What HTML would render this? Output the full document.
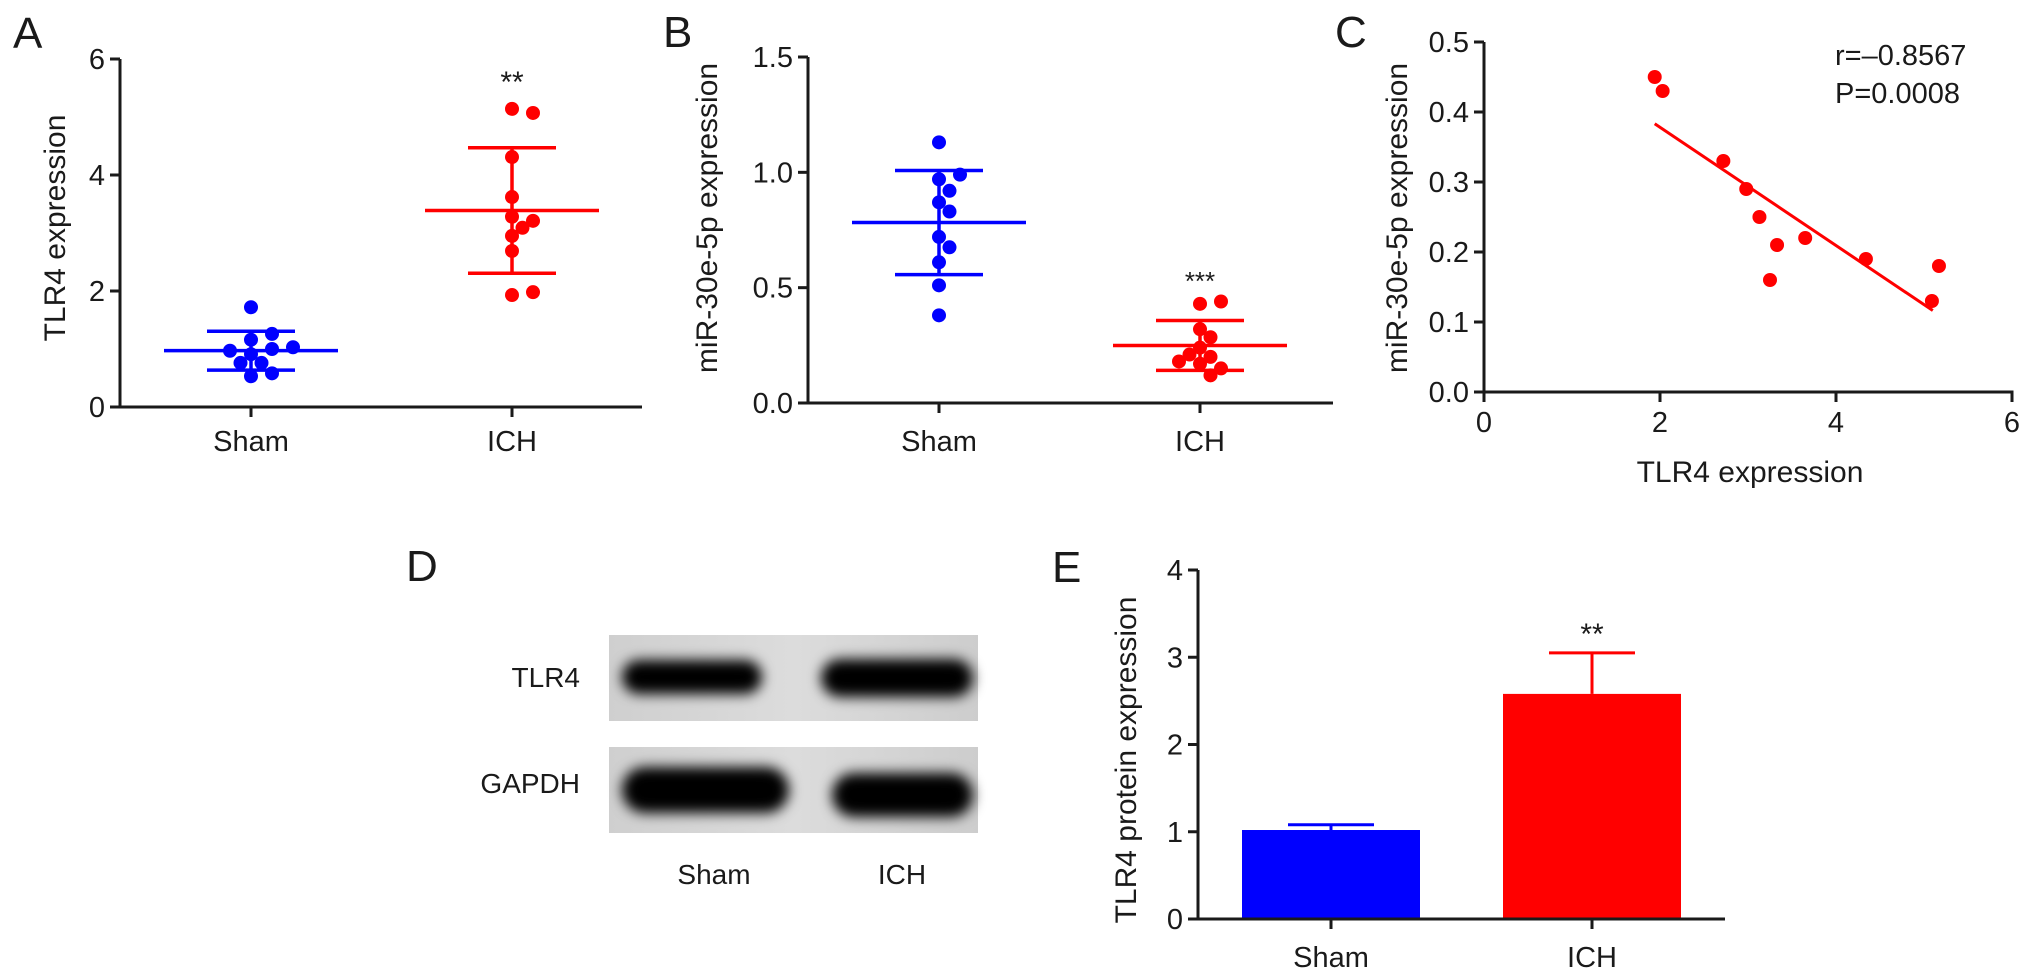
<!DOCTYPE html>
<html><head><meta charset="utf-8"><style>
html,body{margin:0;padding:0;background:#fff;}
svg{display:block;font-family:"Liberation Sans",Arial,sans-serif;}
</style></head><body>
<svg id="fig" width="2032" height="980" viewBox="0 0 2032 980">
<defs>
<filter id="blur" x="-20%" y="-60%" width="140%" height="220%"><feGaussianBlur stdDeviation="6.5"/></filter>
<linearGradient id="blotbg" x1="0" x2="1" y1="0" y2="0"><stop offset="0" stop-color="#cfcfcf"/><stop offset="0.5" stop-color="#dcdcdc"/><stop offset="1" stop-color="#cdcdcd"/></linearGradient>
</defs>
</svg>
<script>
// ---- Panel A data: TLR4 expression ----
const aCategories = ['Sham', 'ICH'];
const aShamValues = [1.72, 1.16, 1.26, 0.91, 1.0, 0.97, 1.03, 0.76, 0.76, 0.53, 0.58];
const aIchValues = [5.14, 5.07, 4.31, 3.62, 3.28, 3.21, 3.09, 2.95, 2.69, 1.93, 1.98];
const aTicks = [0, 2, 4, 6];
// ---- Panel B data: miR-30e-5p expression ----
const bCategories = ['Sham', 'ICH'];
const bShamValues = [1.13, 0.97, 0.99, 0.92, 0.87, 0.83, 0.72, 0.675, 0.61, 0.51, 0.38];
const bIchValues = [0.43, 0.44, 0.32, 0.285, 0.24, 0.20, 0.21, 0.17, 0.18, 0.15, 0.12];
const bTicks = [0.0, 0.5, 1.0, 1.5];
const bTickLabels = ['0.0', '0.5', '1.0', '1.5'];
// ---- Panel C data: correlation ----
const cX = [1.94, 2.03, 2.72, 2.98, 3.13, 3.33, 3.25, 3.65, 4.34, 5.09, 5.17];
const cY = [0.45, 0.43, 0.33, 0.29, 0.25, 0.21, 0.16, 0.22, 0.19, 0.13, 0.18];
const cXTicks = [0, 2, 4, 6];
const cYTicks = [0.0, 0.1, 0.2, 0.3, 0.4, 0.5];
const cYTickLabels = ['0.0', '0.1', '0.2', '0.3', '0.4', '0.5'];
const cStats = ['r=\u20130.8567', 'P=0.0008'];
// ---- Panel E data: TLR4 protein ----
const eCategories = ['Sham', 'ICH'];
const eMeans = [1.02, 2.58];
const eErrors = [0.06, 0.47];
const eTicks = [0, 1, 2, 3, 4];

const svg = document.getElementById('fig');
const NS = 'http://www.w3.org/2000/svg';
const BLUE = '#0000ff', RED = '#ff0000', INK = '#1a1a1a';

function mk(tag, attrs, name, parent) {
  const el = document.createElementNS(NS, tag);
  for (const k in attrs) el.setAttribute(k, attrs[k]);
  
  
  (parent || svg).appendChild(el);
  return el;
}
function txt(x, y, s, size, name, extra) {
  const a = Object.assign({x: x, y: y, 'font-size': size, fill: INK, 'text-anchor': 'middle'}, extra || {});
  const t = mk('text', a, name);
  t.textContent = s;
  return t;
}
function line(x1, y1, x2, y2, color, w, name) {
  return mk('line', {x1: x1, y1: y1, x2: x2, y2: y2, stroke: color, 'stroke-width': w}, name);
}
function mean(a) { return a.reduce((s, v) => s + v, 0) / a.length; }
function sd(a) { const m = mean(a); return Math.sqrt(a.reduce((s, v) => s + (v - m) * (v - m), 0) / (a.length - 1)); }

function yAxis(x, yScale, ticks, labels, top, bottom, prefix) {
  line(x, top, x, bottom + 1.5, INK, 3, prefix + '-y-axis');
  ticks.forEach((t, i) => {
    const y = yScale(t);
    line(x - 10, y, x, y, INK, 3, prefix + '-y-tick');
    txt(x - 15, y + 10, labels[i], 29, prefix + '-y-tick-label', {'text-anchor': 'end'});
  });
}
function swarm(values, cx, yScale, color, prefix) {
  const placed = [];
  const order = [0, 1, -1, 2, -2, 3, -3, 4, -4, 5, -5];
  values.forEach(v => {
    const y = yScale(v);
    let px = cx;
    for (const k of order) {
      const x = cx + k * 10.5;
      if (!placed.some(p => Math.hypot(p[0] - x, p[1] - y) < 12.5)) { px = x; break; }
    }
    placed.push([px, y]);
    mk('circle', {cx: px, cy: y, r: 7, fill: color}, prefix + '-dot');
  });
}
function meanSd(values, cx, yScale, color, prefix) {
  const m = mean(values), s = sd(values);
  line(cx - 87, yScale(m), cx + 87, yScale(m), color, 3.5, prefix + '-mean-line');
  line(cx, yScale(m + s), cx, yScale(m - s), color, 3.5, prefix + '-sd-stem');
  line(cx - 44, yScale(m + s), cx + 44, yScale(m + s), color, 3.5, prefix + '-sd-cap-top');
  line(cx - 44, yScale(m - s), cx + 44, yScale(m - s), color, 3.5, prefix + '-sd-cap-bottom');
}

// ===== Panel A =====
(function () {
  const ax = 120, y0 = 407, y6 = 59;
  const yS = v => y0 - (v / 6) * (y0 - y6);
  const xPos = [251, 512];
  txt(13, 48, 'A', 44, 'panel-a-letter', {'text-anchor': 'start'});
  yAxis(ax, yS, aTicks, aTicks.map(String), y6, y0, 'panel-a');
  line(ax - 10, y0, 642, y0, INK, 3, 'panel-a-x-axis');
  aCategories.forEach((c, i) => {
    line(xPos[i], y0, xPos[i], y0 + 10, INK, 3, 'panel-a-x-tick');
    txt(xPos[i], 451, c, 29, 'panel-a-x-label-' + c.toLowerCase());
  });
  txt(0, 0, 'TLR4 expression', 30, 'panel-a-y-axis-title', {transform: 'translate(65,228) rotate(-90)'});
  swarm(aShamValues, xPos[0], yS, BLUE, 'panel-a-sham');
  meanSd(aShamValues, xPos[0], yS, BLUE, 'panel-a-sham');
  swarm(aIchValues, xPos[1], yS, RED, 'panel-a-ich');
  meanSd(aIchValues, xPos[1], yS, RED, 'panel-a-ich');
  txt(xPos[1], 92, '**', 30, 'panel-a-significance');
})();

// ===== Panel B =====
(function () {
  const ax = 808, y0 = 403, yTop = 57;
  const yS = v => y0 - (v / 1.5) * (y0 - yTop);
  const xPos = [939, 1200];
  txt(663, 47, 'B', 44, 'panel-b-letter', {'text-anchor': 'start'});
  yAxis(ax, yS, bTicks, bTickLabels, yTop, y0, 'panel-b');
  line(ax - 10, y0, 1333, y0, INK, 3, 'panel-b-x-axis');
  bCategories.forEach((c, i) => {
    line(xPos[i], y0, xPos[i], y0 + 10, INK, 3, 'panel-b-x-tick');
    txt(xPos[i], 451, c, 29, 'panel-b-x-label-' + c.toLowerCase());
  });
  txt(0, 0, 'miR-30e-5p expression', 30, 'panel-b-y-axis-title', {transform: 'translate(717,218) rotate(-90)'});
  swarm(bShamValues, xPos[0], yS, BLUE, 'panel-b-sham');
  meanSd(bShamValues, xPos[0], yS, BLUE, 'panel-b-sham');
  swarm(bIchValues, xPos[1], yS, RED, 'panel-b-ich');
  meanSd(bIchValues, xPos[1], yS, RED, 'panel-b-ich');
  txt(xPos[1], 290, '***', 26, 'panel-b-significance');
})();

// ===== Panel C =====
(function () {
  const ax = 1484, y0 = 392, yTop = 42, xUnit = 88;
  const xS = v => ax + v * xUnit;
  const yS = v => y0 - (v / 0.5) * (y0 - yTop);
  txt(1335, 47, 'C', 44, 'panel-c-letter', {'text-anchor': 'start'});
  yAxis(ax, yS, cYTicks, cYTickLabels, yTop, y0, 'panel-c');
  line(ax - 10, y0, xS(6) + 1.5, y0, INK, 3, 'panel-c-x-axis');
  cXTicks.forEach(t => {
    line(xS(t), y0, xS(t), y0 + 10, INK, 3, 'panel-c-x-tick');
    txt(xS(t), 432, String(t), 29, 'panel-c-x-tick-label');
  });
  txt(1750, 482, 'TLR4 expression', 30, 'panel-c-x-axis-title');
  txt(0, 0, 'miR-30e-5p expression', 30, 'panel-c-y-axis-title', {transform: 'translate(1407,218) rotate(-90)'});
  const mx = mean(cX), my = mean(cY);
  let sxy = 0, sxx = 0;
  cX.forEach((x, i) => { sxy += (x - mx) * (cY[i] - my); sxx += (x - mx) * (x - mx); });
  const slope = sxy / sxx, icpt = my - slope * mx;
  const xmin = Math.min(...cX), xmax = Math.max(...cX) - 0.07;
  line(xS(xmin), yS(icpt + slope * xmin), xS(xmax), yS(icpt + slope * xmax), RED, 3, 'panel-c-regression-line');
  cX.forEach((x, i) => {
    mk('circle', {cx: xS(x), cy: yS(cY[i]), r: 7, fill: RED}, 'panel-c-point');
  });
  txt(1835, 65, cStats[0], 29, 'panel-c-r-value', {'text-anchor': 'start'});
  txt(1835, 103, cStats[1], 29, 'panel-c-p-value', {'text-anchor': 'start'});
})();

// ===== Panel D (western blot) =====
(function () {
  txt(406, 581, 'D', 44, 'panel-d-letter', {'text-anchor': 'start'});
  mk('rect', {x: 609, y: 635, width: 369, height: 86, fill: 'url(#blotbg)'}, 'blot-tlr4-membrane');
  mk('rect', {x: 609, y: 747, width: 369, height: 86, fill: 'url(#blotbg)'}, 'blot-gapdh-membrane');
  mk('rect', {x: 622, y: 660, width: 140, height: 34, rx: 17, fill: '#000', filter: 'url(#blur)'}, 'blot-tlr4-sham-band');
  mk('rect', {x: 821, y: 659, width: 152, height: 38, rx: 19, fill: '#000', filter: 'url(#blur)'}, 'blot-tlr4-ich-band');
  mk('rect', {x: 622, y: 767, width: 167, height: 46, rx: 23, fill: '#000', filter: 'url(#blur)'}, 'blot-gapdh-sham-band');
  mk('rect', {x: 832, y: 773, width: 141, height: 44, rx: 22, fill: '#000', filter: 'url(#blur)'}, 'blot-gapdh-ich-band');
  txt(580, 687, 'TLR4', 28, 'blot-label-tlr4', {'text-anchor': 'end'});
  txt(580, 793, 'GAPDH', 28, 'blot-label-gapdh', {'text-anchor': 'end'});
  txt(714, 884, 'Sham', 28, 'blot-lane-sham');
  txt(902, 884, 'ICH', 28, 'blot-lane-ich');
})();

// ===== Panel E =====
(function () {
  const ax = 1198, y0 = 919, yTop = 570;
  const yS = v => y0 - (v / 4) * (y0 - yTop);
  const xPos = [1331, 1592];
  const colors = [BLUE, RED];
  const halfW = 89;
  txt(1052, 582, 'E', 44, 'panel-e-letter', {'text-anchor': 'start'});
  yAxis(ax, yS, eTicks, eTicks.map(String), yTop, y0, 'panel-e');
  eCategories.forEach((c, i) => {
    const top = yS(eMeans[i]);
    mk('rect', {x: xPos[i] - halfW, y: top, width: halfW * 2, height: y0 - top, fill: colors[i]}, 'panel-e-bar-' + c.toLowerCase());
    const et = yS(eMeans[i] + eErrors[i]);
    line(xPos[i], top, xPos[i], et, colors[i], 3, 'panel-e-error-stem-' + c.toLowerCase());
    line(xPos[i] - 43, et, xPos[i] + 43, et, colors[i], 3, 'panel-e-error-cap-' + c.toLowerCase());
    line(xPos[i], y0, xPos[i], y0 + 10, INK, 3, 'panel-e-x-tick');
    txt(xPos[i], 967, c, 29, 'panel-e-x-label-' + c.toLowerCase());
  });
  line(ax - 10, y0, 1725, y0, INK, 3, 'panel-e-x-axis');
  txt(0, 0, 'TLR4 protein expression', 30, 'panel-e-y-axis-title', {transform: 'translate(1136,760) rotate(-90)'});
  txt(xPos[1], 644, '**', 30, 'panel-e-significance');
})();
</script>
</body></html>
